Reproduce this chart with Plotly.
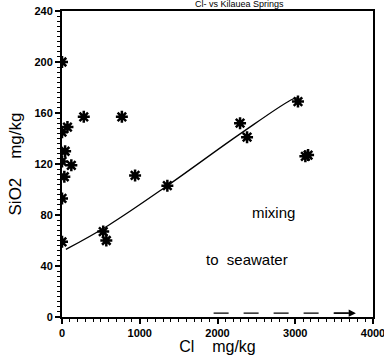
import plotly.graph_objects as go

# Data
cl = [0, 0, 70, 280, 770, 40, 0, 120, 30, 0, 0, 530, 570, 940, 1355, 2290, 2380, 3035, 3130, 3165]
sio2 = [200, 145, 149, 157, 157, 130, 122, 119, 110, 93, 59, 67, 60, 111, 103, 152, 141, 169, 126, 127]

line_cl = [50, 600, 1355, 2300, 2970, 3040]
line_si = [53, 72, 103, 144, 171, 172]

arrow_cl = [1950, 3780]
arrow_si = [3, 3]

x_tick_step = 1000
y_tick_step = 40

title_text = "Cl- vs Kilauea Springs"

fig = go.Figure()
fig.add_trace(go.Scatter(x=line_cl, y=line_si, mode="lines",
                         line=dict(color="black", width=1.3, shape="spline"),
                         showlegend=False, hoverinfo="skip"))
fig.add_trace(go.Scatter(x=cl, y=sio2, mode="markers",
                         marker=dict(symbol="asterisk-open", size=10, color="black",
                                     line=dict(color="black", width=2.5)),
                         showlegend=False))
fig.add_trace(go.Scatter(x=arrow_cl, y=arrow_si, mode="lines",
                         line=dict(color="black", width=1.2, dash="longdash"),
                         showlegend=False, hoverinfo="skip"))
fig.add_annotation(x=arrow_cl[1], y=arrow_si[1], ax=arrow_cl[1] - 300, ay=arrow_si[1],
                   axref="x", ayref="y", xref="x", yref="y", text="",
                   showarrow=True, arrowhead=2, arrowsize=1.2, arrowwidth=1.2,
                   arrowcolor="black")

fig.add_annotation(x=2714, y=82, xref="x", yref="y", text="mixing", showarrow=False,
                   font=dict(family="Liberation Sans, Arial", size=15, color="black"))
fig.add_annotation(x=2380, y=45, xref="x", yref="y", text="to  seawater", showarrow=False,
                   font=dict(family="Liberation Sans, Arial", size=15, color="black"))
fig.add_annotation(x=0.72, y=1.0, xref="paper", yref="paper", yshift=0, text=title_text,
                   showarrow=False, yanchor="bottom",
                   font=dict(family="Liberation Sans, Arial", size=9, color="black"))

axis_common = dict(showgrid=False, zeroline=False, showline=True, linecolor="black",
                   linewidth=2, mirror=True, ticks="outside", ticklen=5, tickwidth=1.5,
                   tickcolor="black", automargin=False, ticklabeloverflow="allow",
                   tickfont=dict(family="Liberation Sans, Arial Black", size=11, color="black",
                                 weight="bold"))

fig.update_xaxes(range=[0, 4000], tickmode="linear", tick0=0, dtick=x_tick_step,
                 minor=dict(dtick=100, ticks="outside", ticklen=3, tickcolor="black", tickwidth=1),
                 title=dict(text="Cl    mg/kg", standoff=2,
                            font=dict(family="Liberation Sans, Arial", size=16, color="black")),
                 **axis_common)
fig.update_yaxes(range=[0, 240], tickmode="linear", tick0=0, dtick=y_tick_step,
                 minor=dict(dtick=4, ticks="outside", ticklen=3, tickcolor="black", tickwidth=1),
                 title=dict(text="SiO2    mg/kg", standoff=8,
                            font=dict(family="Liberation Sans, Arial", size=17, color="black")),
                 **axis_common)

fig.update_layout(width=384, height=355, margin=dict(l=62, r=11, t=11, b=38),
                  plot_bgcolor="white", paper_bgcolor="white")

fig.write_html("out.html", post_script="document.body.style.margin='0';",
               config={"displayModeBar": False})
